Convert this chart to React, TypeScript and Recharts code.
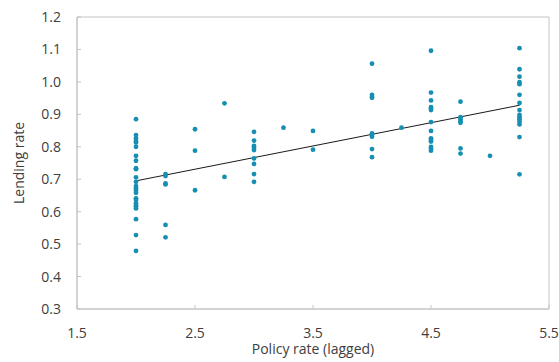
import React from 'react';
import { ScatterChart, Scatter, XAxis, YAxis, ReferenceArea, ReferenceLine } from 'recharts';

// policy rate levels (x) and the lending rates observed at each level (y)
const policyLevels = [2, 2.25, 2.5, 2.75, 3, 3.25, 3.5, 4, 4.25, 4.5, 4.75, 5, 5.25];

const lendingByLevel = [
  [0.885, 0.836, 0.826, 0.818, 0.813, 0.8, 0.772, 0.757, 0.734, 0.731, 0.706, 0.692, 0.679, 0.672, 0.665, 0.658, 0.641, 0.636, 0.626, 0.62, 0.615, 0.61, 0.577, 0.528, 0.479],
  [0.716, 0.71, 0.687, 0.684, 0.559, 0.521],
  [0.854, 0.788, 0.666],
  [0.934, 0.707],
  [0.846, 0.819, 0.803, 0.798, 0.79, 0.764, 0.747, 0.716, 0.692],
  [0.859],
  [0.849, 0.791],
  [1.056, 0.96, 0.954, 0.951, 0.841, 0.836, 0.831, 0.793, 0.768],
  [0.859],
  [1.096, 0.967, 0.943, 0.922, 0.917, 0.913, 0.876, 0.849, 0.826, 0.821, 0.816, 0.8, 0.795, 0.788],
  [0.939, 0.891, 0.885, 0.879, 0.874, 0.795, 0.779],
  [0.772],
  [1.104, 1.039, 1.016, 0.999, 0.993, 0.96, 0.935, 0.913, 0.898, 0.891, 0.885, 0.877, 0.869, 0.83, 0.715],
];

// fitted trend line end points
const trendX = [2, 5.25];
const trendY = [0.695, 0.928];

const xTicks = [1.5, 2.5, 3.5, 4.5, 5.5];
const yTicks = [0.3, 0.4, 0.5, 0.6, 0.7, 0.8, 0.9, 1.0, 1.1, 1.2];

const points = policyLevels.flatMap((x, i) => lendingByLevel[i].map(y => ({ x, y })));

const FONT = '"Open Sans", sans-serif';
const TEXT = '#404040';
const AXIS = '#c4c4c4';
const DOT = '#178fb3';

const Dot = (props: any) => <circle cx={props.cx} cy={props.cy} r={2.4} fill={DOT} />;

export default function App() {
  return (
    <div style={{ position: 'absolute', left: 0, top: 0, fontFamily: FONT }}>
      <ScatterChart width={559} height={362} margin={{ top: 17, right: 10, bottom: 0, left: 0 }}>
        <XAxis
          type="number"
          dataKey="x"
          domain={[1.5, 5.5]}
          ticks={xTicks}
          tickFormatter={(v: number) => v.toFixed(1)}
          height={53}
          tickSize={-4}
          tickMargin={23}
          stroke={AXIS}
          tick={{ fill: TEXT, fontSize: 14, fontFamily: FONT }}
          label={{ value: 'Policy rate (lagged)', position: 'insideBottom', offset: 8, fill: TEXT, fontSize: 14, fontFamily: FONT }}
        />
        <YAxis
          type="number"
          dataKey="y"
          domain={[0.3, 1.2]}
          ticks={yTicks}
          tickFormatter={(v: number) => v.toFixed(1)}
          width={77}
          tickSize={-4}
          tickMargin={20}
          stroke={AXIS}
          tick={{ fill: TEXT, fontSize: 14, fontFamily: FONT }}
          label={{ value: 'Lending rate', angle: -90, position: 'insideLeft', offset: 19, fill: TEXT, fontSize: 14, fontFamily: FONT, style: { textAnchor: 'middle' } }}
        />
        <ReferenceArea x1={1.5} x2={5.5} y1={0.3} y2={1.2} fill="none" stroke={AXIS} />
        <Scatter data={points} shape={Dot} isAnimationActive={false} />
        <ReferenceLine
          segment={[{ x: trendX[0], y: trendY[0] }, { x: trendX[1], y: trendY[1] }]}
          stroke="#1a1a1a"
          strokeWidth={1}
        />
      </ScatterChart>
    </div>
  );
}
